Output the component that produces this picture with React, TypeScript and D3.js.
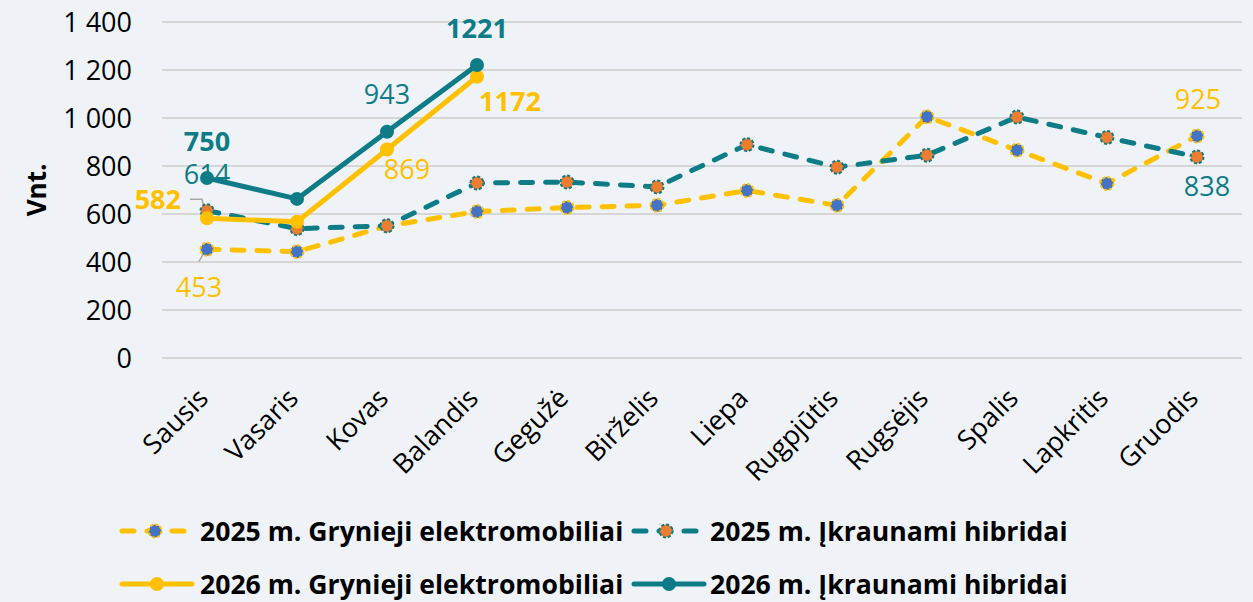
import * as d3 from "d3";

// Months and monthly registrations (vnt.)
const months = ["Sausis", "Vasaris", "Kovas", "Balandis", "Gegužė", "Birželis", "Liepa", "Rugpjūtis", "Rugsėjis", "Spalis", "Lapkritis", "Gruodis"];
const bev2025 = [453, 443, 550, 610, 627, 636, 698, 636, 1005, 866, 727, 925];
const phev2025 = [614, 539, 551, 729, 733, 713, 889, 795, 845, 1004, 919, 838];
const bev2026 = [582, 568, 869, 1172];
const phev2026 = [750, 663, 943, 1221];
const yTicks = [0, 200, 400, 600, 800, 1000, 1200, 1400];

const YELLOW = "#FFC000";
const TEAL = "#0E7C86";
const BLUE = "#4472C4";
const ORANGE = "#ED7D31";
const FONT = "'Open Sans', sans-serif";

const width = 1253;
const height = 602;
const margin = { left: 162, right: 11, top: 22, bottom: 243 };

const series = [
  { name: "2025 m. Grynieji elektromobiliai", values: bev2025, color: YELLOW, marker: BLUE, dashed: true },
  { name: "2025 m. Įkraunami hibridai", values: phev2025, color: TEAL, marker: ORANGE, dashed: true },
  { name: "2026 m. Grynieji elektromobiliai", values: bev2026, color: YELLOW, marker: YELLOW, dashed: false },
  { name: "2026 m. Įkraunami hibridai", values: phev2026, color: TEAL, marker: TEAL, dashed: false },
];

// which points get a data label, and where it sits relative to the point
const labels = [
  { s: 3, i: 0, dx: 0, dy: -37, bold: true, anchor: "middle" },
  { s: 1, i: 0, dx: 0, dy: -36, bold: false, anchor: "middle" },
  { s: 2, i: 0, dx: -26, dy: -19, bold: true, anchor: "end" },
  { s: 0, i: 0, dx: -8, dy: 38, bold: false, anchor: "middle" },
  { s: 3, i: 2, dx: 0, dy: -37, bold: false, anchor: "middle" },
  { s: 2, i: 2, dx: 20, dy: 20, bold: false, anchor: "middle" },
  { s: 3, i: 3, dx: 0, dy: -37, bold: true, anchor: "middle" },
  { s: 2, i: 3, dx: 33, dy: 25, bold: true, anchor: "middle" },
  { s: 0, i: 11, dx: 1, dy: -37, bold: false, anchor: "middle" },
  { s: 1, i: 11, dx: 10, dy: 29, bold: false, anchor: "middle" },
];

export default function App() {
  const x = d3.scaleBand().domain(months).range([margin.left, width - margin.right]);
  const y = d3.scaleLinear().domain([0, 1400]).range([height - margin.bottom - 1, margin.top]);
  const cx = (i: number) => (x(months[i]) as number) + x.bandwidth() / 2;

  const line = d3.line<number>().x((d, i) => cx(i)).y((d) => y(d));

  const marker = (s: any, px: number, py: number, key: string) =>
    s.dashed ? (
      <circle key={key} cx={px} cy={py} r={6.5} fill={s.marker} stroke={s.color} strokeWidth={2} strokeDasharray="3 2" />
    ) : (
      <circle key={key} cx={px} cy={py} r={7} fill={s.marker} />
    );

  // leader lines for the crowded January labels
  const p582 = { x: cx(0), y: y(bev2026[0]) };
  const p453 = { x: cx(0), y: y(bev2025[0]) };

  const legendRows = [
    { y: 531, items: [{ s: 0, x0: 122, x1: 188, tx: 200 }, { s: 1, x0: 634, x1: 698, tx: 710 }] },
    { y: 584, items: [{ s: 2, x0: 122, x1: 192, tx: 200 }, { s: 3, x0: 634, x1: 704, tx: 710 }] },
  ];

  return (
    <svg width={width} height={height} style={{ position: "absolute", left: 0, top: 0, background: "#EFF3F7", fontFamily: FONT }}>
      <rect width={width} height={height} fill="#EFF3F7" />
      {/* grid and y ticks */}
      {yTicks.map((t) => (
        <g key={t}>
          <line x1={margin.left} x2={width - margin.right} y1={y(t)} y2={y(t)} stroke="#D6D6D6" strokeWidth={2} />
          <text x={132} y={y(t)} dy="0.36em" textAnchor="end" fontSize={27} fill="#000">
            {d3.format(",")(t).replace(/,/g, " ")}
          </text>
        </g>
      ))}
      <text transform={`translate(37, 190) rotate(-90)`} textAnchor="middle" dy="0.36em" fontSize={26} fontWeight="bold">Vnt.</text>

      {/* x labels */}
      {months.map((m, i) => (
        <text key={m} transform={`translate(${cx(i) - 4}, 393) rotate(-45)`} textAnchor="end" dy="0.36em" fontSize={27}>{m}</text>
      ))}

      {/* leader lines */}
      <polyline points={`${p582.x - 17},${p582.y - 19} ${p582.x - 5},${p582.y - 19} ${p582.x - 1},${p582.y - 3}`} fill="none" stroke="#A6A6A6" strokeWidth={1.5} />
      <line x1={p453.x - 8} y1={p453.y + 12} x2={p453.x - 2} y2={p453.y + 2} stroke="#A6A6A6" strokeWidth={1.5} />

      {/* series */}
      {series.map((s, si) => (
        <g key={si}>
          <path d={line(s.values) as string} fill="none" stroke={s.color} strokeWidth={5} strokeLinecap="round" strokeLinejoin="round"
            strokeDasharray={s.dashed ? "12 13" : undefined} />
          {s.values.map((v, i) => marker(s, cx(i), y(v), `${si}-${i}`))}
        </g>
      ))}

      {/* data labels */}
      {labels.map((l, k) => {
        const s = series[l.s];
        return (
          <text key={k} x={cx(l.i) + l.dx} y={y(s.values[l.i]) + l.dy} dy="0.36em" textAnchor={l.anchor as any}
            fontSize={27} fontWeight={l.bold ? "bold" : "normal"} fill={s.color}>
            {s.values[l.i]}
          </text>
        );
      })}

      {/* legend */}
      {legendRows.map((row, ri) => (
        <g key={ri}>
          {row.items.map((it) => {
            const s = series[it.s];
            const mid = (it.x0 + it.x1) / 2;
            return (
              <g key={it.s}>
                <line x1={it.x0} x2={it.x1} y1={row.y} y2={row.y} stroke={s.color} strokeWidth={5} strokeLinecap="round"
                  strokeDasharray={s.dashed ? "12 13" : undefined} />
                {marker(s, mid, row.y, "m")}
                <text x={it.tx} y={row.y} dy="0.36em" fontSize={26.6} fontWeight="bold" fill="#000">{s.name}</text>
              </g>
            );
          })}
        </g>
      ))}
    </svg>
  );
}
